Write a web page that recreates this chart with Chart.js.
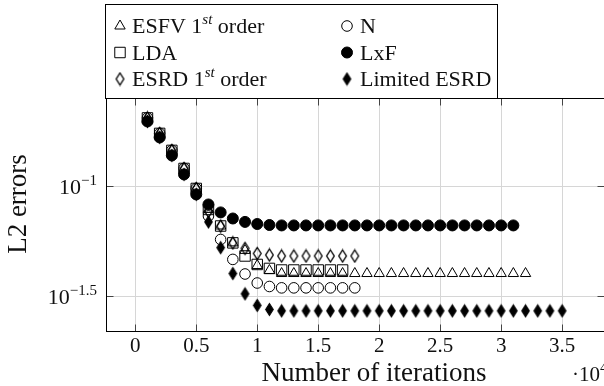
<!DOCTYPE html>
<html>
<head>
<meta charset="utf-8">
<script src="https://cdn.jsdelivr.net/npm/chart.js@4.4.1/dist/chart.umd.min.js"></script>
<style>
  html, body { margin: 0; padding: 0; background: #fff; overflow: hidden; }
  #wrap { position: relative; width: 612px; height: 386px; }
</style>
</head>
<body>
<div id="wrap"><canvas id="c" width="612" height="386"></canvas></div>
<script>
// Iteration counts at which the L2 error was recorded
const iterations = [1000, 2000, 3000, 4000, 5000, 6000, 7000, 8000, 9000, 10000,
  11000, 12000, 13000, 14000, 15000, 16000, 17000, 18000, 19000, 20000,
  21000, 22000, 23000, 24000, 25000, 26000, 27000, 28000, 29000, 30000,
  31000, 32000, 33000, 34000, 35000];

// L2 errors per scheme
const esfv = [0.2048, 0.1742, 0.1458, 0.1207, 0.0979, 0.0786, 0.0661, 0.0554, 0.0512, 0.0437,
  0.0415, 0.0402, 0.0402, 0.0402, 0.0402, 0.0402, 0.0402, 0.0402, 0.0402, 0.0402,
  0.0402, 0.0402, 0.0402, 0.0402, 0.0402, 0.0402, 0.0402, 0.0402, 0.0402, 0.0402,
  0.0402, 0.0402];
const nScheme = [0.2048, 0.1742, 0.1458, 0.1207, 0.0979, 0.0734, 0.0574, 0.0466, 0.0400, 0.0364,
  0.0351, 0.0346, 0.0346, 0.0346, 0.0346, 0.0346, 0.0346, 0.0346];
const lda = [0.2048, 0.1742, 0.1458, 0.1207, 0.0979, 0.0786, 0.0661, 0.0554, 0.0483, 0.0442,
  0.0424, 0.0417, 0.0417, 0.0417, 0.0417, 0.0417, 0.0417];
const lxf = [0.1974, 0.1670, 0.1383, 0.1134, 0.0920, 0.0828, 0.0762, 0.0715, 0.0690, 0.0675,
  0.0668, 0.0665, 0.0665, 0.0665, 0.0665, 0.0665, 0.0665, 0.0665, 0.0665, 0.0665,
  0.0665, 0.0665, 0.0665, 0.0665, 0.0665, 0.0665, 0.0665, 0.0665, 0.0665, 0.0665,
  0.0665];
const esrd = [0.2048, 0.1742, 0.1458, 0.1207, 0.0979, 0.0770, 0.0661, 0.0554, 0.0523, 0.0496,
  0.0488, 0.0483, 0.0483, 0.0483, 0.0483, 0.0483, 0.0483, 0.0483];
const limitedEsrd = [0.1974, 0.1670, 0.1383, 0.1134, 0.0920, 0.0690, 0.0527, 0.0402, 0.0325, 0.0288,
  0.0276, 0.0272, 0.0272, 0.0272, 0.0272, 0.0272, 0.0272, 0.0272, 0.0272, 0.0272,
  0.0272, 0.0272, 0.0272, 0.0272, 0.0272, 0.0272, 0.0272, 0.0272, 0.0272, 0.0272,
  0.0272, 0.0272, 0.0272, 0.0272, 0.0272];

// Axis ticks
const xTicks = [0, 5000, 10000, 15000, 20000, 25000, 30000, 35000];
const xTickLabels = ['0', '0.5', '1', '1.5', '2', '2.5', '3', '3.5'];
const yTicks = [0.1, 0.0316228];
const yTickExponents = ['\u22121', '\u22121.5'];

const SERIF = '"Liberation Serif", "Times New Roman", serif';
const INK = '#000';

function pts(values) {
  return values.map((v, i) => ({ x: iterations[i], y: v }));
}

// Tall diamond marks (narrower than high)
function diamondMark(filled) {
  const c = document.createElement('canvas');
  c.width = 11; c.height = 15;
  const g = c.getContext('2d');
  g.beginPath();
  g.moveTo(5.5, 1.5); g.lineTo(9.3, 7.5); g.lineTo(5.5, 13.5); g.lineTo(1.7, 7.5); g.closePath();
  if (filled) { g.fillStyle = INK; g.fill(); }
  g.strokeStyle = INK; g.lineWidth = filled ? 1.1 : 1.35; g.stroke();
  return c;
}
const openDiamond = diamondMark(false);
const solidDiamond = diamondMark(true);

const CLEAR = 'rgba(0,0,0,0)';
const datasets = [
  { label: 'ESFV', data: pts(esfv), pointStyle: 'triangle', pointRadius: 6, backgroundColor: CLEAR, order: 6 },
  { label: 'N', data: pts(nScheme), pointStyle: 'circle', pointRadius: 5.3, backgroundColor: CLEAR, order: 5 },
  { label: 'LDA', data: pts(lda), pointStyle: 'rect', pointRadius: 7.4, backgroundColor: CLEAR, order: 4 },
  { label: 'LxF', data: pts(lxf), pointStyle: 'circle', pointRadius: 5.5, backgroundColor: INK, order: 3 },
  { label: 'ESRD', data: pts(esrd), pointStyle: openDiamond, pointRadius: 5, backgroundColor: CLEAR, order: 2 },
  { label: 'Limited ESRD', data: pts(limitedEsrd), pointStyle: solidDiamond, pointRadius: 5, backgroundColor: INK, order: 1 }
].map(d => Object.assign({
  showLine: false, borderColor: INK, borderWidth: 1, pointBorderWidth: 1, pointHoverRadius: d.pointRadius
}, d));

// Legend content: two columns, three rows
const legendEntries = [
  { ds: 0, col: 0, row: 0, parts: [{ t: 'ESFV 1' }, { t: 'st', sup: true, italic: true }, { t: ' order' }] },
  { ds: 1, col: 1, row: 0, parts: [{ t: 'N' }] },
  { ds: 2, col: 0, row: 1, parts: [{ t: 'LDA' }] },
  { ds: 3, col: 1, row: 1, parts: [{ t: 'LxF' }] },
  { ds: 4, col: 0, row: 2, parts: [{ t: 'ESRD 1' }, { t: 'st', sup: true, italic: true }, { t: ' order' }] },
  { ds: 5, col: 1, row: 2, parts: [{ t: 'Limited ESRD' }] }
];

function fontOf(p, base) {
  const size = p.sup ? Math.round(base * 0.7) : base;
  return (p.italic ? 'italic ' : '') + size + 'px ' + SERIF;
}
function drawRich(ctx, parts, x, baseline, base, align) {
  let w = 0;
  parts.forEach(p => { ctx.font = fontOf(p, base); w += ctx.measureText(p.t).width; });
  let cx = align === 'right' ? x - w : align === 'center' ? x - w / 2 : x;
  parts.forEach(p => {
    ctx.font = fontOf(p, base);
    ctx.fillText(p.t, cx, baseline - (p.sup ? base * 0.42 : 0));
    cx += ctx.measureText(p.t).width;
  });
}

const decor = {
  id: 'decor',
  afterDraw(chart) {
    const ctx = chart.ctx, a = chart.chartArea;
    const xs = chart.scales.x, ys = chart.scales.y;
    const L = Math.round(a.left) + 0.5, R = Math.round(a.right) + 0.5;
    const T = Math.round(a.top) + 0.5, B = Math.round(a.bottom) + 0.5;
    ctx.save();

    // inward tick marks
    ctx.strokeStyle = '#444'; ctx.lineWidth = 1;
    ctx.beginPath();
    xTicks.forEach(v => {
      const px = Math.round(xs.getPixelForValue(v)) + 0.5;
      ctx.moveTo(px, B); ctx.lineTo(px, B - 7);
      ctx.moveTo(px, T); ctx.lineTo(px, T + 7);
    });
    yTicks.forEach(v => {
      const py = Math.round(ys.getPixelForValue(v)) + 0.5;
      ctx.moveTo(L, py); ctx.lineTo(L + 7, py);
      ctx.moveTo(R, py); ctx.lineTo(R - 7, py);
    });
    ctx.stroke();

    // axis frame
    ctx.strokeStyle = '#000';
    ctx.strokeRect(L, T, R - L, B - T);

    ctx.fillStyle = '#111';
    ctx.textAlign = 'left';
    ctx.textBaseline = 'alphabetic';

    // x tick labels
    xTicks.forEach((v, i) => {
      drawRich(ctx, [{ t: xTickLabels[i] }], xs.getPixelForValue(v), 352, 21, 'center');
    });
    // y tick labels
    yTicks.forEach((v, i) => {
      const py = ys.getPixelForValue(v);
      drawRich(ctx, [{ t: '10' }, { t: yTickExponents[i], sup: true }], a.left - 9, py + 8, 22, 'right');
    });
    // x scale factor
    drawRich(ctx, [{ t: '\u00b710' }, { t: '4', sup: true }], 572, 381, 21, 'left');

    // axis titles
    drawRich(ctx, [{ t: 'Number of iterations' }], 374, 381, 27, 'center');
    ctx.save();
    ctx.translate(26, 204);
    ctx.rotate(-Math.PI / 2);
    drawRich(ctx, [{ t: 'L2 errors' }], 0, 0, 27, 'center');
    ctx.restore();

    // legend box
    ctx.fillStyle = '#fff';
    ctx.fillRect(105.5, 4.5, 392, T - 4.5);
    ctx.strokeStyle = '#000';
    ctx.strokeRect(105.5, 4.5, 392, T - 4.5);
    const colMark = [120, 347], colText = [132, 360], rowBase = [33, 59.5, 86];
    legendEntries.forEach(e => {
      const ds = chart.data.datasets[e.ds];
      ctx.fillStyle = ds.backgroundColor;
      ctx.strokeStyle = INK;
      ctx.lineWidth = 1;
      Chart.helpers.drawPoint(ctx, {
        pointStyle: ds.pointStyle, radius: ds.pointRadius, borderWidth: 1, rotation: 0
      }, colMark[e.col], rowBase[e.row] - 7);
      ctx.fillStyle = '#111';
      drawRich(ctx, e.parts, colText[e.col], rowBase[e.row], 22, 'left');
    });
    ctx.restore();
  }
};

new Chart(document.getElementById('c'), {
  type: 'scatter',
  data: { datasets },
  options: {
    responsive: false,
    animation: false,
    devicePixelRatio: 1,
    layout: { padding: { left: 106, top: 98, right: 3, bottom: 55 } },
    plugins: { legend: { display: false }, tooltip: { enabled: false } },
    scales: {
      x: {
        type: 'linear', min: -2400, max: 38400,
        afterBuildTicks: s => { s.ticks = xTicks.map(v => ({ value: v })); },
        ticks: { display: false },
        grid: { color: '#d6d6d6', lineWidth: 1, drawTicks: false },
        border: { display: false }
      },
      y: {
        type: 'logarithmic', min: 0.02203, max: 0.2523,
        afterBuildTicks: s => { s.ticks = yTicks.map(v => ({ value: v })); },
        ticks: { display: false },
        grid: { color: '#d6d6d6', lineWidth: 1, drawTicks: false },
        border: { display: false }
      }
    }
  },
  plugins: [decor]
});
</script>
</body>
</html>
